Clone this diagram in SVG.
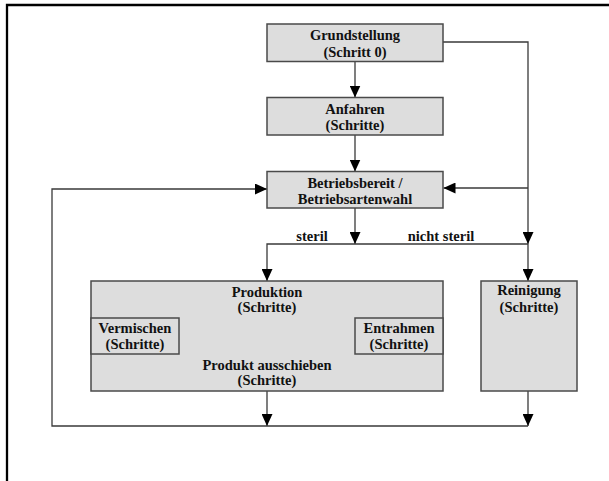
<svg xmlns="http://www.w3.org/2000/svg" width="609" height="481" viewBox="0 0 609 481">
<style>
.box{fill:#dddddd;stroke:#4a4a4a;stroke-width:1.5}
.t{font-family:"Liberation Serif","Times New Roman",serif;font-weight:bold;font-size:14.5px;fill:#111;text-anchor:middle}
.c{fill:none;stroke:#3a3a3a;stroke-width:1.3}
</style>
<defs>
<marker id="ah" viewBox="0 0 12 11" refX="12" refY="5.5" markerWidth="12" markerHeight="11" markerUnits="userSpaceOnUse" orient="auto-start-reverse">
<path d="M0,0 L12,5.5 L0,11 z" fill="#000"/>
</marker>
</defs>
<rect width="609" height="481" fill="#fff"/>
<path d="M7,481 V5 H609" fill="none" stroke="#000" stroke-width="2.3"/>
<g id="connectors">
<path class="c" d="M355,61.5 V97.5" marker-end="url(#ah)"/>
<path class="c" d="M355,135 V171.5" marker-end="url(#ah)"/>
<path class="c" d="M355,208 V244" marker-end="url(#ah)"/>
<path class="c" d="M443,42 H528 V244" marker-end="url(#ah)"/>
<path class="c" d="M528,244 V281" marker-end="url(#ah)"/>
<path class="c" d="M528,188 H443.5" marker-end="url(#ah)"/>
<path class="c" d="M528,244 H267 V281" marker-end="url(#ah)"/>
<path class="c" d="M267,391 V426" marker-end="url(#ah)"/>
<path class="c" d="M528,391 V426" marker-end="url(#ah)"/>
<path class="c" d="M528,426 H52 V189 H267" marker-end="url(#ah)"/>
<path class="c" d="M205,333 H297" marker-start="url(#ah)" marker-end="url(#ah)"/>
<text class="t" x="312" y="241">steril</text>
<text class="t" x="441" y="241">nicht steril</text>
</g>
<g id="grundstellung">
<rect class="box" x="267" y="24" width="176" height="37.5"/>
<text class="t" x="355" y="40">Grundstellung</text>
<text class="t" x="355" y="56.5">(Schritt 0)</text>
</g>
<g id="anfahren">
<rect class="box" x="267" y="97.5" width="176" height="37.5"/>
<text class="t" x="355" y="113.5">Anfahren</text>
<text class="t" x="355" y="130">(Schritte)</text>
</g>
<g id="betriebsbereit">
<rect class="box" x="267" y="171.5" width="176" height="36.5"/>
<text class="t" x="355" y="187.5">Betriebsbereit /</text>
<text class="t" x="355" y="204">Betriebsartenwahl</text>
</g>
<g id="produktion">
<rect class="box" x="91" y="281" width="352" height="110"/>
<text class="t" x="267" y="296.5">Produktion</text>
<text class="t" x="267" y="312">(Schritte)</text>
<text class="t" x="267" y="370">Produkt ausschieben</text>
<text class="t" x="267" y="385">(Schritte)</text>
</g>
<g id="vermischen">
<rect class="box" x="91" y="318" width="88" height="36"/>
<text class="t" x="135" y="333">Vermischen</text>
<text class="t" x="135" y="349">(Schritte)</text>
</g>
<g id="entrahmen">
<rect class="box" x="355" y="318" width="88" height="36"/>
<text class="t" x="399" y="333">Entrahmen</text>
<text class="t" x="399" y="349">(Schritte)</text>
</g>
<g id="reinigung">
<rect class="box" x="481" y="281" width="96" height="110"/>
<text class="t" x="529" y="295">Reinigung</text>
<text class="t" x="529" y="312">(Schritte)</text>
</g>
</svg>
